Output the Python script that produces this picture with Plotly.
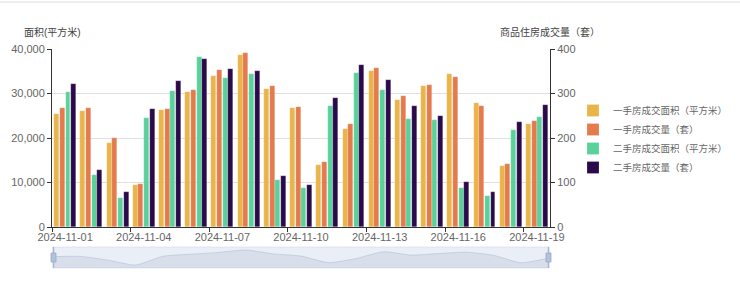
import plotly.graph_objects as go

dates = ["2024-11-%02d" % d for d in range(1, 20)]
new_area = [25500, 26100, 18800, 9400, 26400, 30400, 33900, 38600, 31000, 26700,
            13900, 22000, 35100, 28600, 31600, 34300, 27900, 13700, 23100]
new_count = [267, 268, 199, 97, 266, 309, 353, 392, 317, 269,
             147, 232, 358, 295, 318, 337, 273, 141, 239]
old_area = [30400, 11600, 6600, 24400, 30600, 38300, 33400, 34400, 10500, 8800,
            27100, 34700, 30800, 24300, 24000, 8700, 7000, 21700, 24800]
old_count = [322, 128, 78, 265, 327, 378, 356, 351, 114, 94,
             289, 363, 331, 273, 249, 102, 79, 236, 275]

series_names = ["一手房成交面积（平方米）", "一手房成交量（套）", "二手房成交面积（平方米）", "二手房成交量（套）"]
colors = ["#E9B54A", "#E47B4D", "#5AD19B", "#2B0A4B"]
left_ticks = [0, 10000, 20000, 30000, 40000]
right_ticks = [0, 100, 200, 300, 400]

FONT = "Liberation Sans, Noto Sans CJK SC, sans-serif"
GREY = "#666666"

fig = go.Figure()
data = [(new_area, "y"), (new_count, "y2"), (old_area, "y"), (old_count, "y2")]
offsets = [-0.415, -0.2, 0.015, 0.23]
for i, ((vals, ax), name, col) in enumerate(zip(data, series_names, colors)):
    fig.add_trace(go.Bar(
        x=dates, y=vals, name=name, yaxis=ax,
        marker=dict(color=col, line=dict(color="rgba(255,255,255,0.4)", width=0.5)),
        width=0.19, offset=offsets[i],
    ))

# data-zoom shadow
idx = list(range(len(dates)))
fig.add_trace(go.Scatter(
    x=idx, y=new_area, xaxis="x2", yaxis="y3", mode="lines",
    line=dict(color="rgba(120,140,170,0.25)", width=1, shape="spline", smoothing=0.6),
    fill="tozeroy", fillcolor="rgba(120,140,170,0.15)",
    showlegend=False, hoverinfo="skip",
))

MAIN_BOTTOM = (268 - 227) / 219

fig.update_layout(
    width=740, height=282,
    margin=dict(l=52, r=190, t=49, b=14, autoexpand=False),
    paper_bgcolor="white", plot_bgcolor="white",
    font=dict(family=FONT, size=11, color=GREY),
    barmode="overlay",
    showlegend=True,
    legend=dict(x=(573 - 52) / 498, y=(268 - 96) / 219, xanchor="left", yanchor="top",
                font=dict(size=9.5, color=GREY, family=FONT),
                itemwidth=30, tracegroupgap=0, bgcolor="rgba(0,0,0,0)"),
    xaxis=dict(type="category", domain=[0, 1], anchor="y",
               tickmode="linear", tick0=0, dtick=3, tickson="boundaries",
               ticks="outside", ticklen=4, tickcolor="#333", tickangle=0,
               showline=True, linecolor="#333", linewidth=1, automargin=False,
               showgrid=False, tickfont=dict(size=11, color=GREY),
               range=[-0.5, len(dates) - 0.5]),
    yaxis=dict(domain=[MAIN_BOTTOM, 1], range=[0, 40000], tickvals=left_ticks,
               tickformat=",d", ticks="outside", ticklen=4, tickcolor="#333",
               showline=True, linecolor="#333", linewidth=1, automargin=False,
               gridcolor="#E0E0E0", gridwidth=1, zeroline=False,
               tickfont=dict(size=11, color=GREY)),
    yaxis2=dict(overlaying="y", side="right", anchor="x", range=[0, 400],
                tickvals=right_ticks, ticksuffix="套", automargin=False,
                ticks="outside", ticklen=4, tickcolor="#333",
                showline=True, linecolor="#333", linewidth=1,
                showgrid=False, zeroline=False,
                tickfont=dict(size=11, color=GREY)),
    xaxis2=dict(domain=[0.002, 0.998], anchor="y3", range=[0, len(dates) - 1],
                visible=False, fixedrange=True),
    yaxis3=dict(domain=[0, 21 / 219], range=[3500, 44400], visible=False, fixedrange=True),
    bargap=0,
)

annotations = [
    dict(text="面积(平方米)", x=0, y=(268 - 32) / 219, xref="paper", yref="paper",
         xanchor="center", yanchor="middle", showarrow=False,
         font=dict(size=10, color="#444", family=FONT)),
    dict(text="商品住房成交量（套）", x=1, y=(268 - 32) / 219, xref="paper", yref="paper",
         xanchor="center", yanchor="middle", showarrow=False,
         font=dict(size=10, color="#444", family=FONT)),
]
fig.update_layout(annotations=annotations)

def px_x(p):
    return (p - 52) / 498

def px_y(p):
    return (268 - p) / 219

shapes = [
    dict(type="line", xref="paper", yref="paper", x0=px_x(0), x1=px_x(740),
         y0=px_y(2), y1=px_y(2), line=dict(color="#EEEEEE", width=2), layer="below"),
    dict(type="rect", xref="paper", yref="paper", x0=px_x(53), x1=px_x(549),
         y0=px_y(268), y1=px_y(247), fillcolor="rgba(135,160,210,0.18)",
         line=dict(color="rgba(200,210,230,1)", width=0.5), layer="below"),
    dict(type="line", xref="paper", yref="paper", x0=px_x(53.5), x1=px_x(53.5),
         y0=px_y(268), y1=px_y(247), line=dict(color="#A9B8D2", width=1.5)),
    dict(type="rect", xref="paper", yref="paper", x0=px_x(51), x1=px_x(56),
         y0=px_y(262), y1=px_y(253), fillcolor="#B3C2DB", line=dict(color="#9AAACA", width=0.8)),
    dict(type="line", xref="paper", yref="paper", x0=px_x(548.5), x1=px_x(548.5),
         y0=px_y(268), y1=px_y(247), line=dict(color="#A9B8D2", width=1.5)),
    dict(type="rect", xref="paper", yref="paper", x0=px_x(546), x1=px_x(551),
         y0=px_y(262), y1=px_y(253), fillcolor="#B3C2DB", line=dict(color="#9AAACA", width=0.8)),
]
fig.update_layout(shapes=shapes)

fig.write_html("out.html")
